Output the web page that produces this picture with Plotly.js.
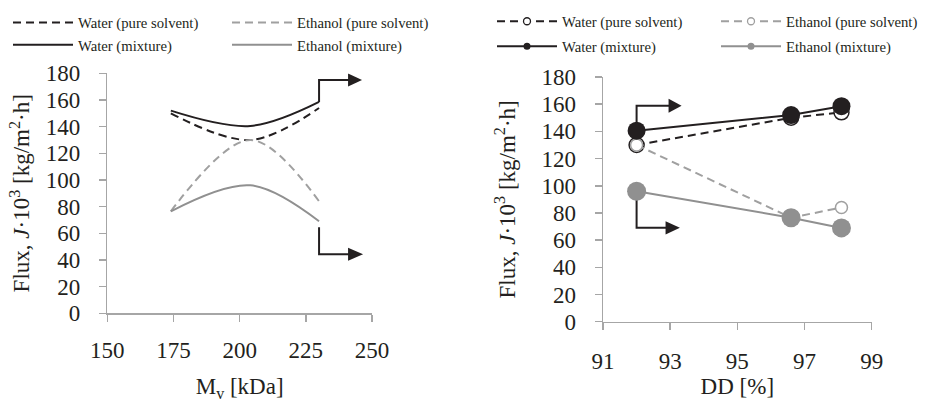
<!DOCTYPE html>
<html><head><meta charset="utf-8">
<script src="https://cdn.plot.ly/plotly-3.0.1.min.js"></script>
<style>html,body{margin:0;padding:0;background:#fff}#chart{width:927px;height:402px}</style>
</head><body><div id="chart"></div>
<script>
// ---- data (per membrane sample) ----
const sampleMv = [174, 204, 230];          // kDa
const sampleDD = [96.6, 92, 98.1];         // %
const waterPure = [150, 130, 154];
const waterMix = [152, 140.5, 158.5];
const ethanolPure = [76.5, 130, 84];
const ethanolMix = [76.5, 96, 69];
const seriesNames = ['Water (pure solvent)', 'Ethanol (pure solvent)', 'Water (mixture)', 'Ethanol (mixture)'];
const mvTicks = [150, 175, 200, 225, 250];
const ddTicks = [91, 93, 95, 97, 99];
const fluxTicks = [0, 20, 40, 60, 80, 100, 120, 140, 160, 180];
const rightTicks = [0, 5, 10, 15, 20, 25, 30, 35];

// ---- styles ----
const FONT = 'Liberation Serif';
const TXT = '#231f20';
const AX = '#a6a6a6';
const BLK = '#231f20';
const GRY = '#a0a0a0';
const GRYM = '#909090';
const DASH = '8px,5px';

const ddOrder = sampleDD.map((d, i) => i).sort((a, b) => sampleDD[a] - sampleDD[b]);
const byDD = arr => ddOrder.map(i => arr[i]);
const dd = byDD(sampleDD);

const series = [
  {name: seriesNames[0], y: waterPure, color: BLK, dash: DASH, filled: false, ms: 15},
  {name: seriesNames[1], y: ethanolPure, color: GRY, dash: DASH, filled: false, ms: 12},
  {name: seriesNames[2], y: waterMix, color: BLK, dash: 'solid', filled: true, ms: 18},
  {name: seriesNames[3], y: ethanolMix, color: GRYM, dash: 'solid', filled: true, ms: 19}
];

const traces = [];
// left chart: smoothed lines vs Mv
series.forEach((s, i) => {
  traces.push({
    type: 'scatter', mode: 'lines', x: sampleMv, y: s.y, name: s.name,
    xaxis: 'x', yaxis: 'y',
    line: {color: s.color, width: 2, dash: s.dash, shape: 'spline', smoothing: 1},
    legend: i < 2 ? 'legend' : 'legend2', hoverinfo: 'skip'
  });
});
// right chart: lines + markers vs DD
series.forEach(s => {
  traces.push({
    type: 'scatter', mode: 'lines+markers', x: dd, y: byDD(s.y), name: s.name,
    xaxis: 'x2', yaxis: 'y3', showlegend: false,
    line: {color: s.color, width: 2, dash: s.dash},
    marker: {symbol: 'circle', size: s.ms, color: s.filled ? s.color : '#ffffff',
             line: {color: s.color, width: s.filled ? 0 : 1.5}},
    hoverinfo: 'skip'
  });
});
// right chart legend entries (small legend symbols)
series.forEach((s, i) => {
  traces.push({
    type: 'scatter', mode: 'lines+markers', x: [null], y: [null], name: s.name,
    xaxis: 'x2', yaxis: 'y3',
    line: {color: s.color, width: 2, dash: s.dash},
    marker: {symbol: 'circle', size: 7, color: s.filled ? s.color : '#ffffff',
             line: {color: s.color, width: s.filled ? 0 : 1.3}},
    legend: i < 2 ? 'legend3' : 'legend4'
  });
});

const tf = () => ({family: FONT, size: 23, color: TXT});
const axBase = () => ({
  showline: true, linecolor: AX, linewidth: 1.5, ticks: 'outside', ticklen: 7,
  tickcolor: AX, tickwidth: 1.5, showgrid: false, zeroline: false,
  tickfont: tf(), fixedrange: true, automargin: false
});
const W = 927, H = 402;
const px = (a, b) => [a / W, b / W];
const py = (top, bottom) => [(H - bottom) / H, (H - top) / H];

const legBase = () => ({
  orientation: 'h', font: {family: FONT, size: 14.7, color: TXT},
  bgcolor: 'rgba(0,0,0,0)', xanchor: 'left', yanchor: 'middle',
  itemwidth: 60, traceorder: 'normal', itemclick: false, itemdoubleclick: false
});

const fluxTitle = 'Flux, <i>J</i>·10<sup>3</sup> [kg/m<sup>2</sup>·h]';

const layout = {
  width: W, height: H,
  margin: {l: 0, r: 0, t: 0, b: 0, autoexpand: false},
  paper_bgcolor: '#ffffff', plot_bgcolor: '#ffffff',
  font: {family: FONT, color: TXT},
  showlegend: true,
  xaxis: Object.assign(axBase(), {
    domain: px(107.3, 372), range: [150, 250], tickvals: mvTicks, anchor: 'y',
    ticklabelstandoff: 9,
    title: {text: 'M<sub>v</sub> [kDa]', font: tf(), standoff: 15}
  }),
  yaxis: Object.assign(axBase(), {
    domain: py(73.3, 313.3), range: [0, 180], tickvals: fluxTicks, anchor: 'x',
    ticklabelstandoff: 14,
    title: {text: fluxTitle, font: tf(), standoff: 9}
  }),
  yaxis2: Object.assign(axBase(), {
    overlaying: 'y', side: 'right', anchor: 'x', range: [0, 35], tickvals: rightTicks,
    ticklabelstandoff: 16
  }),
  xaxis2: Object.assign(axBase(), {
    domain: px(603, 871.7), range: [91, 99], tickvals: ddTicks, anchor: 'y3',
    ticklabelstandoff: 11,
    title: {text: 'DD [%]', font: tf(), standoff: 4}
  }),
  yaxis3: Object.assign(axBase(), {
    domain: py(77, 321.7), range: [0, 180], tickvals: fluxTicks, anchor: 'x2',
    ticklabelstandoff: 14,
    title: {text: fluxTitle, font: tf(), standoff: 19}
  }),
  yaxis4: Object.assign(axBase(), {
    overlaying: 'y3', side: 'right', anchor: 'x2', range: [0, 35], tickvals: rightTicks,
    ticklabelstandoff: 6
  }),
  legend: Object.assign(legBase(), {x: 8 / W, y: 1 - 23 / H, entrywidth: 144}),
  legend2: Object.assign(legBase(), {x: 8 / W, y: 1 - 45.3 / H, entrywidth: 144}),
  legend3: Object.assign(legBase(), {x: 492 / W, y: 1 - 21.7 / H, entrywidth: 149}),
  legend4: Object.assign(legBase(), {x: 492 / W, y: 1 - 46.7 / H, entrywidth: 149}),
  shapes: [
    // left chart elbow arrows (pixel offsets from the last data point)
    {type: 'path', xref: 'x', yref: 'y', xsizemode: 'pixel', ysizemode: 'pixel',
     xanchor: sampleMv[2], yanchor: waterMix[2], path: 'M0,0 L0,22 L30,22',
     line: {color: BLK, width: 2}},
    {type: 'path', xref: 'x', yref: 'y', xsizemode: 'pixel', ysizemode: 'pixel',
     xanchor: sampleMv[2], yanchor: waterMix[2], path: 'M29,28.5 L43,22 L29,15.5 Z',
     fillcolor: BLK, line: {width: 0}},
    {type: 'path', xref: 'x', yref: 'y', xsizemode: 'pixel', ysizemode: 'pixel',
     xanchor: sampleMv[2], yanchor: ethanolMix[2], path: 'M0,-6 L0,-33 L30,-33',
     line: {color: BLK, width: 2}},
    {type: 'path', xref: 'x', yref: 'y', xsizemode: 'pixel', ysizemode: 'pixel',
     xanchor: sampleMv[2], yanchor: ethanolMix[2], path: 'M29,-26.5 L44,-33 L29,-39.5 Z',
     fillcolor: BLK, line: {width: 0}},
    // right chart elbow arrows (from the DD = 92 % points)
    {type: 'path', xref: 'x2', yref: 'y3', xsizemode: 'pixel', ysizemode: 'pixel', layer: 'below',
     xanchor: sampleDD[1], yanchor: waterMix[1], path: 'M0,0 L0,25 L33,25',
     line: {color: BLK, width: 2}},
    {type: 'path', xref: 'x2', yref: 'y3', xsizemode: 'pixel', ysizemode: 'pixel',
     xanchor: sampleDD[1], yanchor: waterMix[1], path: 'M32,32 L45,25 L32,18 Z',
     fillcolor: BLK, line: {width: 0}},
    {type: 'path', xref: 'x2', yref: 'y3', xsizemode: 'pixel', ysizemode: 'pixel', layer: 'below',
     xanchor: sampleDD[1], yanchor: ethanolMix[1], path: 'M0,0 L0,-36.6 L30,-36.6',
     line: {color: BLK, width: 2}},
    {type: 'path', xref: 'x2', yref: 'y3', xsizemode: 'pixel', ysizemode: 'pixel',
     xanchor: sampleDD[1], yanchor: ethanolMix[1], path: 'M29,-30 L43.3,-36.6 L29,-43.2 Z',
     fillcolor: BLK, line: {width: 0}}
  ]
};

Plotly.newPlot('chart', traces, layout, {displayModeBar: false, staticPlot: true});
</script>
</body></html>
